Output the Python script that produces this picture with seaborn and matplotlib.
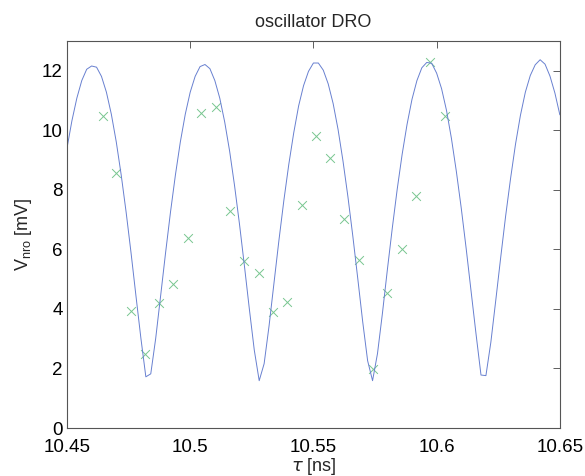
import numpy as np
import pandas as pd
import matplotlib
matplotlib.use("Agg")
import matplotlib.pyplot as plt
import seaborn as sns

# simulated curve, sampled every 2 ps from 10.45 to 10.65 ns
tau_sim = [round(10.45 + 0.002 * i, 3) for i in range(101)]
v_sim = [9.40, 10.32, 11.08, 11.67, 12.05, 12.16, 12.12, 11.81, 11.28, 10.54,
         9.61, 8.50, 7.25, 5.88, 4.43, 3.01, 1.72, 1.82, 3.01, 4.44,
         5.88, 7.25, 8.50, 9.61, 10.54, 11.28, 11.81, 12.14, 12.21, 12.07,
         11.67, 11.08, 10.28, 9.30, 8.14, 6.85, 5.45, 4.00, 2.62, 1.59,
         2.16, 3.43, 4.87, 6.30, 7.64, 8.85, 9.91, 10.82, 11.50, 11.98,
         12.26, 12.26, 12.02, 11.56, 10.90, 10.03, 8.97, 7.77, 6.44, 5.02,
         3.57, 2.26, 1.59, 2.50, 3.85, 5.31, 6.71, 8.02, 9.19, 10.20,
         11.04, 11.67, 12.10, 12.28, 12.25, 11.92, 11.40, 10.67, 9.73, 8.62,
         7.38, 6.02, 4.58, 3.15, 1.78, 1.76, 2.88, 4.29, 5.73, 7.12,
         8.38, 9.53, 10.50, 11.28, 11.84, 12.20, 12.37, 12.22, 11.82, 11.25,
         10.52]

# measured points
tau_meas = [10.4645, 10.4700, 10.4758, 10.4815, 10.4873, 10.4930, 10.4990,
            10.5045, 10.5104, 10.5161, 10.5220, 10.5278, 10.5337, 10.5394,
            10.5452, 10.5510, 10.5568, 10.5625, 10.5683, 10.5741, 10.5799,
            10.5859, 10.5916, 10.5974, 10.6033]
v_meas = [10.47, 8.58, 3.92, 2.49, 4.21, 4.83, 6.39, 10.58, 10.77, 7.30,
          5.61, 5.22, 3.91, 4.22, 7.50, 9.80, 9.08, 7.01, 5.63, 1.98,
          4.53, 6.02, 7.81, 12.30, 10.48]

sim = pd.DataFrame({"tau": tau_sim, "v": v_sim})
meas = pd.DataFrame({"tau": tau_meas, "v": v_meas})

sns.set_style("white")
plt.rcParams['font.family'] = ['Liberation Sans', 'DejaVu Sans']
plt.rcParams['mathtext.fontset'] = 'custom'
plt.rcParams['mathtext.rm'] = 'Liberation Sans'

fig = plt.figure(figsize=(5.85, 4.76), dpi=100)
ax = fig.add_axes([0.1145, 0.1008, 0.8425, 0.8131])

sns.lineplot(x="tau", y="v", data=sim, ax=ax, color='#6880d0', linewidth=0.7,
             sort=False, estimator=None)
sns.scatterplot(x="tau", y="v", data=meas, ax=ax, marker='x', color='#78c690',
                s=40, linewidth=0.7)

ax.set_xlim(10.45, 10.65)
ax.set_ylim(0, 13)
ax.set_xticks([10.45, 10.5, 10.55, 10.6, 10.65])
ax.set_xticklabels(['10.45', '10.5', '10.55', '10.6', '10.65'])
ax.set_yticks([0, 2, 4, 6, 8, 10, 12])
ax.tick_params(direction='in', top=True, right=True, length=5, width=0.6,
               labelsize=13.5, colors='#444444', labelcolor='black', pad=3)
ax.tick_params(axis='x', pad=8)
for s in ax.spines.values():
    s.set_color('#555555')
    s.set_linewidth(0.8)

ax.set_title('oscillator DRO', fontsize=13, pad=10)
ax.set_xlabel(r'$\tau$ [ns]', fontsize=13, labelpad=0)
ax.set_ylabel(r'V$_{\mathrm{nro}}$ [mV]', fontsize=13, labelpad=6)

plt.savefig('out.png', dpi=100)
